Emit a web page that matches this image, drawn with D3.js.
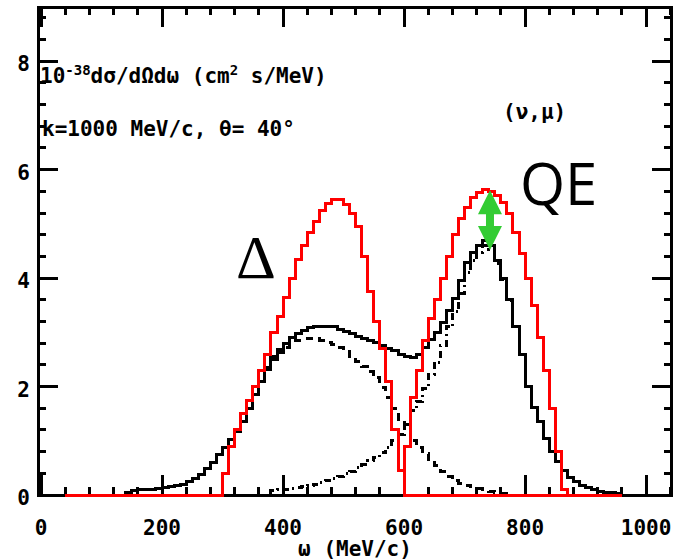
<!DOCTYPE html>
<html>
<head>
<meta charset="utf-8">
<script src="https://cdn.jsdelivr.net/npm/d3@7/dist/d3.min.js"></script>
<style>
  body { margin: 0; background: #fff; }
  svg { display: block; }
  .pix { font-family: "DejaVu Sans Mono", monospace; font-weight: bold; fill: #000; }
</style>
</head>
<body>
<div id="chart"></div>
<script>
// histogram bins are 10 MeV wide, values in 10^-38 cm^2/(sr MeV)
var binWidth = 10;
var rangeStart = 40, rangeEnd = 960;

// red model, delta region (bins from 300 MeV)
var redDeltaStart = 300;
var redDelta = [0.4, 0.9, 1.2, 1.5, 1.75, 2.0, 2.3, 2.6, 3.0, 3.3,
    3.65, 4.0, 4.35, 4.6, 4.85, 5.05, 5.25, 5.38, 5.45, 5.45,
    5.35, 5.2, 4.95, 4.4, 3.75, 3.2, 2.7, 2.1, 1.2, 0.45];

// red model, QE region (bins from 600 MeV)
var redQEStart = 600;
var redQE = [0.9, 1.8, 2.3, 2.85, 3.25, 3.6, 4.0, 4.4, 4.8, 5.1,
    5.3, 5.48, 5.57, 5.63, 5.6, 5.52, 5.4, 5.2, 4.85, 4.45,
    4.0, 3.5, 2.9, 2.3, 1.6, 0.8, 0.1];

// black total (solid), bins from 140 MeV
var blackStart = 140;
var blackTotal = [0.05, 0.09, 0.1, 0.1, 0.11, 0.12, 0.13, 0.15, 0.17, 0.2,
    0.24, 0.3, 0.38, 0.48, 0.6, 0.74, 0.88, 1.02, 1.17, 1.35,
    1.6, 1.85, 2.1, 2.35, 2.55, 2.68, 2.8, 2.9, 2.97, 3.04,
    3.08, 3.1, 3.1, 3.1, 3.1, 3.06, 3.02, 2.98, 2.93, 2.89,
    2.85, 2.81, 2.76, 2.71, 2.66, 2.6, 2.56, 2.54, 2.6, 2.72,
    2.86, 3.0, 3.18, 3.4, 3.63, 3.95, 4.28, 4.48, 4.6, 4.7,
    4.6, 4.32, 4.0, 3.6, 3.1, 2.6, 2.0, 1.62, 1.35, 1.05,
    0.8, 0.62, 0.45, 0.33, 0.25, 0.18, 0.14, 0.1, 0.07, 0.05,
    0.04, 0.02];

// black delta (dashed), bins from 140 MeV
var deltaStart = 140;
var blackDelta = [0.05, 0.09, 0.1, 0.1, 0.11, 0.12, 0.13, 0.15, 0.17, 0.2,
    0.24, 0.3, 0.38, 0.48, 0.6, 0.74, 0.88, 1.02, 1.17, 1.35,
    1.6, 1.85, 2.1, 2.32, 2.5, 2.62, 2.72, 2.8, 2.85, 2.88,
    2.89, 2.88, 2.85, 2.82, 2.78, 2.72, 2.65, 2.56, 2.46, 2.37,
    2.27, 2.16, 1.98, 1.8, 1.6, 1.4, 1.2, 1.0, 0.88, 0.76,
    0.65, 0.55, 0.44, 0.34, 0.26, 0.21, 0.17, 0.15, 0.12, 0.1,
    0.07, 0.05, 0.03, 0.02];

// black QE (dash-dot), bins from 380 MeV
var qeStart = 380;
var blackQE = [0.08, 0.1, 0.11, 0.12, 0.13, 0.15, 0.17, 0.2, 0.23, 0.27,
    0.31, 0.35, 0.39, 0.44, 0.5, 0.56, 0.63, 0.7, 0.78, 0.88,
    1.0, 1.12, 1.3, 1.55, 1.72, 1.96, 2.22, 2.45, 2.75, 3.1,
    3.38, 3.72, 4.1, 4.32, 4.48, 4.6, 4.53, 4.27, 3.97, 3.58,
    3.1, 2.6, 2.0, 1.62, 1.35, 1.05, 0.8, 0.62, 0.45, 0.33,
    0.25, 0.18, 0.14, 0.1, 0.07, 0.05, 0.04, 0.02];

// axis ticks
var xMajor = [0, 200, 400, 600, 800, 1000];
var yMajor = [0, 2, 4, 6, 8];

// green arrow: between red and black QE peaks
var arrowOmega = 742;
var arrowTop = 5.62, arrowBottom = 4.52;

var width = 675, height = 560;

var x = d3.scaleLinear().domain([-5, 1042]).range([38, 671.5]);
var y = d3.scaleLinear().domain([0, 9]).range([495, 7]);

var svg = d3.select('#chart').append('svg')
    .attr('width', width)
    .attr('height', height);

// turn bin list into step points, padded with zero to the full range
function steps(start, vals, from, to) {
    var pts = [];
    if (from !== null) pts.push([from, 0]);
    pts.push([start, 0]);
    vals.forEach(function (v, i) {
        pts.push([start + i * binWidth, v]);
    });
    var end = start + vals.length * binWidth;
    pts.push([end, vals[vals.length - 1]]);
    pts.push([end, 0]);
    if (to !== null) pts.push([to, 0]);
    return pts;
}

var line = d3.line()
    .x(function (d) { return x(d[0]); })
    .y(function (d) { return y(d[1]); })
    .curve(d3.curveStepAfter);

function draw(pts, color, dash) {
    svg.append('path')
        .attr('d', line(pts))
        .attr('fill', 'none')
        .attr('stroke', color)
        .attr('stroke-width', 3)
        .attr('stroke-dasharray', dash)
        .attr('shape-rendering', 'crispEdges');
}

// frame
svg.append('rect')
    .attr('x', x(-5)).attr('y', y(9))
    .attr('width', x(1042) - x(-5))
    .attr('height', y(0) - y(9))
    .attr('fill', 'none')
    .attr('stroke', '#000')
    .attr('stroke-width', 3)
    .attr('shape-rendering', 'crispEdges');

// ticks on all four sides, pointing inward
var xMinor = d3.range(0, 1041, 40);
var yMinor = d3.range(0, 9.01, 0.4);

var ticks = svg.append('g')
    .attr('stroke', '#000')
    .attr('stroke-width', 3)
    .attr('shape-rendering', 'crispEdges');

xMinor.forEach(function (v) {
    var len = (v % 200 === 0) ? 20 : 8;
    ticks.append('line').attr('x1', x(v)).attr('x2', x(v))
        .attr('y1', y(0)).attr('y2', y(0) - len);
    ticks.append('line').attr('x1', x(v)).attr('x2', x(v))
        .attr('y1', y(9)).attr('y2', y(9) + len);
});
yMinor.forEach(function (v) {
    var isMajor = Math.abs(v / 2 - Math.round(v / 2)) < 1e-6;
    var len = isMajor ? 20 : 8;
    ticks.append('line').attr('y1', y(v)).attr('y2', y(v))
        .attr('x1', x(-5)).attr('x2', x(-5) + len);
    ticks.append('line').attr('y1', y(v)).attr('y2', y(v))
        .attr('x1', x(1042)).attr('x2', x(1042) - len);
});

// tick labels
svg.selectAll('.xlab')
    .data(xMajor)
    .enter()
    .append('text')
    .attr('class', 'pix')
    .attr('x', function (d) { return x(d); })
    .attr('y', 535)
    .attr('text-anchor', 'middle')
    .attr('font-size', 21)
    .text(function (d) { return d; });

svg.selectAll('.ylab')
    .data(yMajor)
    .enter()
    .append('text')
    .attr('class', 'pix')
    .attr('x', 30)
    .attr('y', function (d) { return y(d) + 10; })
    .attr('text-anchor', 'end')
    .attr('font-size', 21)
    .text(function (d) { return d; });

svg.append('text')
    .attr('class', 'pix')
    .attr('x', 355).attr('y', 556)
    .attr('text-anchor', 'middle')
    .attr('font-size', 21)
    .text('ω (MeV/c)');

// curves: black first, red on top
draw(steps(blackStart, blackTotal, rangeStart, rangeEnd), '#000', null);
draw(steps(deltaStart, blackDelta, null, null), '#000', '8,6');
draw(steps(qeStart, blackQE, null, null), '#000', '7,4,2,4');
draw(steps(redDeltaStart, redDelta, rangeStart, rangeEnd), '#ff0000', null);
draw(steps(redQEStart, redQE, null, rangeEnd), '#ff0000', null);

// annotation text
var t1 = svg.append('text').attr('class', 'pix')
    .attr('x', 40).attr('y', 83).attr('font-size', 21);
t1.append('tspan').text('10');
t1.append('tspan').attr('dy', -8).attr('font-size', 14).text('-38');
t1.append('tspan').attr('dy', 8).text('dσ/dΩdω (cm');
t1.append('tspan').attr('dy', -8).attr('font-size', 14).text('2');
t1.append('tspan').attr('dy', 8).text(' s/MeV)');

svg.append('text').attr('class', 'pix')
    .attr('x', 42).attr('y', 136).attr('font-size', 21)
    .text('k=1000 MeV/c, θ= 40°');

svg.append('text').attr('class', 'pix')
    .attr('x', 503).attr('y', 119).attr('font-size', 21)
    .text('(ν,μ)');

svg.append('text')
    .attr('x', 236).attr('y', 278)
    .attr('font-family', 'Liberation Serif')
    .attr('font-size', 62)
    .text('Δ');

svg.append('text')
    .attr('x', 520).attr('y', 205)
    .attr('font-family', 'Open Sans')
    .attr('font-size', 58)
    .text('QE');

// green double arrow
var ax = x(arrowOmega), at = y(arrowTop), ab = y(arrowBottom);
var head = 24, hw = 12, sw = 4;
var arrow = [
    [ax, at], [ax + hw, at + head], [ax + sw, at + head],
    [ax + sw, ab - head], [ax + hw, ab - head], [ax, ab],
    [ax - hw, ab - head], [ax - sw, ab - head], [ax - sw, at + head],
    [ax - hw, at + head]
];
svg.append('polygon')
    .attr('points', arrow.map(function (p) { return p.join(','); }).join(' '))
    .attr('fill', '#33cc33');
</script>
</body>
</html>
